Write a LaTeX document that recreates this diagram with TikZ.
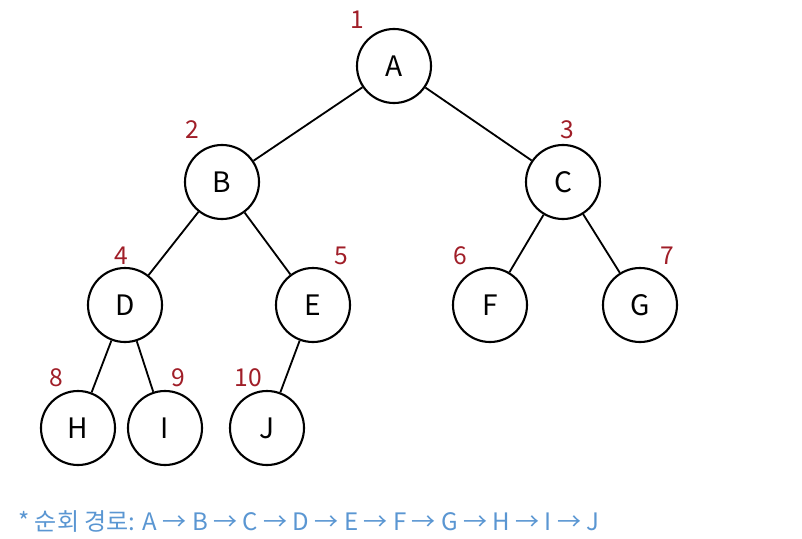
\documentclass[tikz,border=0pt]{standalone}
\usepackage{fontspec}
\setmainfont{Noto Sans CJK KR}
\usetikzlibrary{positioning}
\definecolor{numred}{RGB}{160,30,40}
\definecolor{pathblue}{RGB}{90,150,210}

\begin{document}
\begin{tikzpicture}[x=0.025cm, y=-0.025cm,
    vertex/.style={draw, circle, line width=1.5pt, minimum size=1.85cm, inner sep=0pt, font=\fontsize{20}{24}\selectfont},
    order/.style={text=numred, font=\fontsize{17.5}{21}\selectfont},
    edge/.style={line width=1.3pt}]
    \useasboundingbox (0,0) rectangle (802,539);

    % tree nodes
    \node [vertex] (A) at (394,66) {A};
    \node [vertex] (B) at (222,182) {B};
    \node [vertex] (C) at (563,182) {C};
    \node [vertex] (D) at (125,305) {D};
    \node [vertex] (E) at (313,305) {E};
    \node [vertex] (F) at (490,305) {F};
    \node [vertex] (G) at (640,305) {G};
    \node [vertex] (H) at (78,428) {H};
    \node [vertex] (I) at (165,428) {I};
    \node [vertex] (J) at (267,428) {J};

    % visiting order
    \node [order] (n1) at (357,20) {1};
    \node [order] (n2) at (192,130) {2};
    \node [order] (n3) at (567,130) {3};
    \node [order] (n4) at (121,256) {4};
    \node [order] (n5) at (341,256) {5};
    \node [order] (n6) at (460,256) {6};
    \node [order] (n7) at (667,256) {7};
    \node [order] (n8) at (56,378) {8};
    \node [order] (n9) at (178,378) {9};
    \node [order] (n10) at (248,378) {10};

    \draw [edge] (A) -- (B);
    \draw [edge] (A) -- (C);
    \draw [edge] (B) -- (D);
    \draw [edge] (B) -- (E);
    \draw [edge] (C) -- (F);
    \draw [edge] (C) -- (G);
    \draw [edge] (D) -- (H);
    \draw [edge] (D) -- (I);
    \draw [edge] (E) -- (J);

    \node [anchor=west, text=pathblue, font=\fontsize{17.1}{20}\selectfont, inner sep=0pt] (route) at (18,521)
        {* 순회 경로: A → B → C → D → E → F → G → H → I → J};
\end{tikzpicture}
\end{document}
